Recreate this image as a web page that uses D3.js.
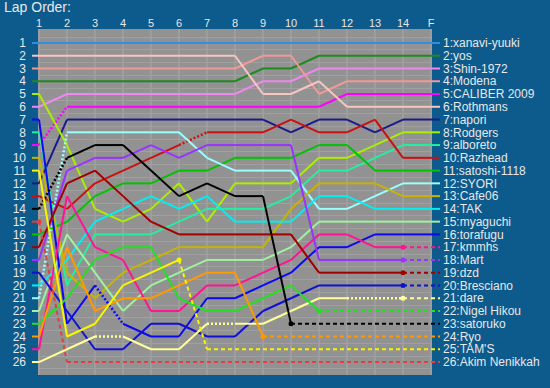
<!DOCTYPE html>
<html>
<head>
<meta charset="utf-8">
<script src="https://cdn.jsdelivr.net/npm/d3@7"></script>
<style>
  body { margin: 0; background: #0d5a8c; }
  svg { display: block; font-family: "Liberation Sans", Arial, sans-serif; }
</style>
</head>
<body>
<svg id="chart" width="550" height="388"></svg>
<script>
// lap headers
var laps = ["1","2","3","4","5","6","7","8","9","10","11","12","13","14","F"];

// drivers in finishing order
var drivers = ["xanavi-yuuki","yos","Shin-1972","Modena","CALIBER 2009","Rothmans","napori",
  "Rodgers","alboreto","Razhead","satoshi-1118","SYORI","Cafe06","TAK","myaguchi","torafugu",
  "kmmhs","Mart","dzd","Bresciano","dare","Nigel Hikou","satoruko","Ryo","TAM'S","Akim Nenikkah"];

var colors = ["#2f8fe6","#1f8a1f","#ee88ee","#f09a96","#ff00ff","#f8c4c0","#1a1a8c",
  "#aaee00","#22f0a0","#cc1010","#00c400","#99ffff","#c8b400","#00f0f0","#a0f2a0","#0a0aee",
  "#ff1493","#9933ff","#a00000","#1010d0","#ffff99","#22e022","#000000","#ff9900","#f6f600","#e04040"];

// position at each completed lap (lap 1 .. last lap, F for those who finished)
var order = [
  [1,1,1,1,1,1,1,1,1,1,1,1,1,1,1],
  [4,4,4,4,4,4,4,4,3,3,2,2,2,2,2],
  [6,5,5,5,5,5,5,5,4,4,3,3,3,3,3],
  [3,3,3,3,3,3,3,3,2,2,5,4,4,4,4],
  [9,6,6,6,6,6,6,6,6,6,6,5,5,5,5],
  [2,2,2,2,2,2,2,2,5,5,4,6,6,6,6],
  [12,7,7,7,7,7,7,7,7,8,7,7,8,7,7],
  [5,9,14,15,14,12,15,12,12,12,10,10,9,8,8],
  [8,20,16,16,16,15,14,14,14,13,11,11,10,9,9],
  [13,14,12,11,10,9,8,8,8,7,8,8,7,10,10],
  [16,15,13,12,12,11,11,10,10,10,9,9,11,11,11],
  [21,8,8,8,8,8,10,11,11,11,14,14,13,12,12],
  [10,19,21,19,18,17,17,17,17,14,12,12,12,13,13],
  [20,18,15,14,13,14,13,15,15,15,13,13,14,14,14],
  [22,16,19,22,20,19,18,18,18,17,15,15,15,15,15],
  [7,23,20,23,24,24,21,21,20,19,17,17,16,16,16],
  [25,13,17,18,22,22,20,20,19,18,16,16,17,17],
  [18,11,10,10,9,10,9,9,9,9,18,18,18,18],
  [17,12,11,13,15,16,16,16,16,16,19,19,19,19],
  [19,22,25,25,23,23,24,24,22,21,20,20,20,20],
  [26,25,24,24,25,25,23,23,23,22,21,21,21,21],
  [23,21,18,17,17,21,22,22,21,20,22],
  [14,10,9,9,11,13,12,13,13,23],
  [24,17,22,21,21,20,19,19,24],
  [11,24,23,20,19,18],
  [15]
];

// laps whose following segment is drawn dotted (pit laps)
var pits = [[],[],[],[],[1],[],[],[],[],[6],[],[1],[],[],[],[3],
  [],[],[],[],[3,7,12,13],[],[1],[],[],[]];

var svg = d3.select("#chart");
var W = 550, H = 388;

var x = d3.scaleLinear().domain([1, 15]).range([39, 431]);
var y = d3.scaleLinear().domain([0, 27]).range([30.2, 374.8]);

svg.append("rect").attr("width", W).attr("height", H).attr("fill", "#0d5a8c");

svg.append("text")
  .attr("x", 4).attr("y", 12)
  .attr("fill", "#e8e8e8").style("font-size", "14px")
  .text("Lap Order:");

var plot = svg.append("g");
plot.append("rect")
  .attr("x", x(1) - 1).attr("y", 29)
  .attr("width", x(15) - x(1) + 2).attr("height", 346)
  .attr("fill", "#929292");

// grid
plot.selectAll(".vg").data(laps).enter().append("line")
  .attr("x1", function(d, i) { return x(i + 1); })
  .attr("x2", function(d, i) { return x(i + 1); })
  .attr("y1", 29).attr("y2", 375)
  .attr("stroke", "#a8a8a8").attr("stroke-width", 1);

plot.selectAll(".hg").data(d3.range(0, 27)).enter().append("line")
  .attr("x1", x(1) - 1).attr("x2", x(15) + 1)
  .attr("y1", function(d) { return Math.round(y(d + 0.5)) + 0.5; })
  .attr("y2", function(d) { return Math.round(y(d + 0.5)) + 0.5; })
  .attr("stroke", "#a0a0a0").attr("stroke-width", 1);

// lap labels
svg.selectAll(".lap").data(laps).enter().append("text")
  .attr("x", function(d, i) { return x(i + 1); })
  .attr("y", 27)
  .attr("text-anchor", "middle")
  .attr("fill", "#e8e8e8").style("font-size", "11px")
  .text(function(d) { return d; });

// position labels
svg.selectAll(".pos").data(d3.range(1, 27)).enter().append("text")
  .attr("x", 26)
  .attr("y", function(d) { return y(d); })
  .attr("dy", "0.35em")
  .attr("text-anchor", "end")
  .attr("fill", "#e8e8e8").style("font-size", "12px")
  .text(function(d) { return d; });

var lines = svg.append("g").attr("fill", "none").attr("stroke-width", 2);

drivers.forEach(function(name, k) {
  var p = order[k], col = colors[k], fin = k + 1, n = p.length;
  var segs = [];
  // stub left of lap 1
  segs.push({x1: 32, y1: y(p[0]), x2: x(1), y2: y(p[0]), s: "solid"});
  for (var i = 0; i < n - 1; i++) {
    segs.push({x1: x(i + 1), y1: y(p[i]), x2: x(i + 2), y2: y(p[i + 1]),
      s: pits[k].indexOf(i + 1) >= 0 ? "dot" : "solid"});
  }
  var endStyle = "solid";
  if (n < 15) {
    endStyle = "dash";
    segs.push({x1: x(n), y1: y(p[n - 1]), x2: x(n + 1), y2: y(fin), s: "dash"});
    if (n + 1 < 15) segs.push({x1: x(n + 1), y1: y(fin), x2: x(15), y2: y(fin), s: "dash"});
  }
  // stub right of F
  segs.push({x1: x(15), y1: y(fin), x2: 440, y2: y(fin), s: endStyle});

  lines.selectAll(null).data(segs).enter().append("line")
    .attr("x1", function(d) { return d.x1; })
    .attr("y1", function(d) { return d.y1; })
    .attr("x2", function(d) { return d.x2; })
    .attr("y2", function(d) { return d.y2; })
    .attr("stroke", col)
    .attr("stroke-width", function(d) { return d.s == "dot" ? 2.5 : 2; })
    .attr("stroke-dasharray", function(d) {
      return d.s == "dot" ? "2,2" : (d.s == "dash" ? "4,3" : null);
    });

  if (n < 15) {
    lines.append("circle")
      .attr("cx", x(n)).attr("cy", y(p[n - 1])).attr("r", 2.5)
      .attr("fill", col).attr("stroke", "none");
  }

  svg.append("text")
    .attr("x", 443).attr("y", y(fin)).attr("dy", "0.35em")
    .attr("fill", "#e8e8e8").style("font-size", "12px")
    .text(fin + ":" + name);
});
</script>
</body>
</html>
